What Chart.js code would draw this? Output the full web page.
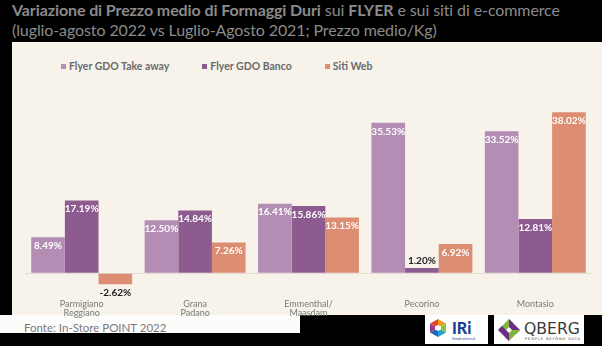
<!DOCTYPE html>
<html lang="it">
<head>
<meta charset="utf-8">
<script src="https://cdn.jsdelivr.net/npm/chart.js@4"></script>
<style>
  html, body { margin: 0; padding: 0; }
  body { width: 602px; height: 346px; background: #000; position: relative; overflow: hidden; font-family: Lato, sans-serif; }
  .titolo { position: absolute; left: 12px; top: 0px; color: #8b8b8b; font-size: 16px; line-height: 20px; white-space: nowrap; letter-spacing: -0.1px; }
  .titolo b { font-weight: 700; }
  .pannello { position: absolute; left: 12px; top: 42px; width: 590px; height: 273px; background: #f7f3ea; }
  .fascia { position: absolute; left: 0; top: 315px; width: 300px; height: 18px; background: #fcfcfb; }
  .fonte { position: absolute; left: 24px; top: 321px; color: #7b7b7b; font-size: 11.5px; }
  #legenda { position: absolute; left: 61px; top: 60px; display: flex; font-size: 10.5px; font-weight: 700; color: #6a6a6a; }
  #legenda span.voce { display: flex; align-items: center; margin-right: 33px; }
  #legenda i { display: inline-block; width: 5px; height: 5px; margin-right: 3px; }
  #grafico { position: absolute; left: 12px; top: 42px; }
  .logo { position: absolute; top: 315px; height: 29px; background: #fff; }
</style>
</head>
<body>
<div class="titolo">
  <b>Variazione di Prezzo medio di Formaggi Duri</b> sui <b>FLYER</b> e sui siti di e-commerce<br>
  (luglio-agosto 2022 vs Luglio-Agosto 2021; Prezzo medio/Kg)
</div>
<div class="pannello"></div>
<div class="fascia"></div>
<div class="fonte">Fonte: In-Store POINT 2022</div>
<div id="legenda"></div>
<canvas id="grafico" width="590" height="292"></canvas>

<div class="logo" style="left:425px; width:63px;">
  <svg width="63" height="29" viewBox="0 0 63 29">
    <polygon points="13,4 21,8.5 13,13" fill="#f39c1f"/>
    <polygon points="13,4 5,8.5 13,13" fill="#e8452c"/>
    <polygon points="5,8.5 5,17.5 13,13" fill="#9b3b8f"/>
    <polygon points="5,17.5 13,22 13,13" fill="#2a66b1"/>
    <polygon points="13,22 21,17.5 13,13" fill="#1ba6d9"/>
    <polygon points="21,17.5 21,8.5 13,13" fill="#8cc63f"/>
    <polygon points="13,10 16,11.5 16,14.5 13,16 10,14.5 10,11.5" fill="#fff"/>
    <text x="27" y="19" font-family="Lato, sans-serif" font-weight="900" font-size="16" fill="#1d3f8f">IRi</text>
    <text x="27" y="25" font-family="Lato, sans-serif" font-size="3" fill="#1d3f8f">Growth delivered.</text>
  </svg>
</div>
<div class="logo" style="left:494px; width:90px;">
  <svg width="90" height="29" viewBox="0 0 90 29">
    <polygon points="4,15 15,4 19,8 12,15" fill="#7dba3c"/>
    <polygon points="15,4 26,15 22,19 15,12" fill="#6c2d82"/>
    <polygon points="26,15 15,26 11,22 18,15" fill="#7dba3c"/>
    <polygon points="15,26 4,15 8,11 15,18" fill="#6c2d82"/>
    <text x="30" y="19" font-family="'DejaVu Sans', sans-serif" font-size="15" fill="#3a3a3a" textLength="56" lengthAdjust="spacingAndGlyphs">QBERG</text>
    <text x="31" y="25" font-family="'DejaVu Sans', sans-serif" font-size="3.6" fill="#3a3a3a" textLength="55">PEOPLE BEYOND DATA</text>
  </svg>
</div>

<script>
// categorie e serie (variazione % prezzo medio/Kg)
const categorie = [['Parmigiano', 'Reggiano'], ['Grana', 'Padano'], ['Emmenthal/', 'Maasdam'], 'Pecorino', 'Montasio'];
const serieNomi = ['Flyer GDO Take away', 'Flyer GDO Banco', 'Siti Web'];
const takeAway = [8.49, 12.50, 16.41, 35.53, 33.52];
const banco = [17.19, 14.84, 15.86, 1.20, 12.81];
const sitiWeb = [-2.62, 7.26, 13.15, 6.92, 38.02];
const colori = ['#b38db4', '#8e5b91', '#dc8d72'];

// etichette valore sopra/dentro le barre
const etichette = {
  id: 'etichette',
  afterDatasetsDraw(chart) {
    const ctx = chart.ctx;
    ctx.save();
    ctx.font = '700 10px Lato, sans-serif';
    ctx.textAlign = 'center';
    ctx.textBaseline = 'middle';
    chart.data.datasets.forEach((ds, i) => {
      chart.getDatasetMeta(i).data.forEach((bar, j) => {
        const v = ds.data[j];
        const testo = v.toFixed(2) + '%';
        if (v < 0) {
          ctx.fillStyle = '#222';
          ctx.fillText(testo, bar.x, bar.y + 9);
        } else if (v < 3) {
          ctx.fillStyle = '#222';
          ctx.fillText(testo, bar.x, bar.y - 7);
        } else {
          ctx.fillStyle = '#fff';
          ctx.fillText(testo, bar.x, bar.y + 8.5);
        }
      });
    });
    ctx.restore();
  }
};

const datasets = [takeAway, banco, sitiWeb].map((d, i) => ({
  label: serieNomi[i],
  data: d,
  backgroundColor: colori[i],
  borderWidth: 0,
  categoryPercentage: 0.89,
  barPercentage: 1.0
}));

// legenda html
const leg = document.getElementById('legenda');
serieNomi.forEach((n, i) => {
  const s = document.createElement('span');
  s.className = 'voce';
  s.innerHTML = '<i style="background:' + colori[i] + '"></i>' + n;
  leg.appendChild(s);
});

new Chart(document.getElementById('grafico'), {
  type: 'bar',
  data: { labels: categorie, datasets: datasets },
  plugins: [etichette],
  options: {
    responsive: false,
    animation: false,
    layout: { padding: { top: 53.5, left: 13, right: 10, bottom: 7 } },
    plugins: { legend: { display: false }, tooltip: { enabled: false } },
    scales: {
      x: {
        grid: { display: false, drawTicks: false },
        border: { display: false },
        ticks: { color: '#7a7a7a', font: { family: 'Lato', size: 9, lineHeight: 1.05 }, padding: 9, maxRotation: 0 }
      },
      y: {
        min: -4,
        max: 42,
        ticks: { display: false, stepSize: 2 },
        border: { display: false },
        grid: {
          drawTicks: false,
          color: c => c.tick.value === 0 ? '#e2ded6' : 'rgba(0,0,0,0)',
          lineWidth: 1
        }
      }
    }
  }
});
</script>
</body>
</html>
